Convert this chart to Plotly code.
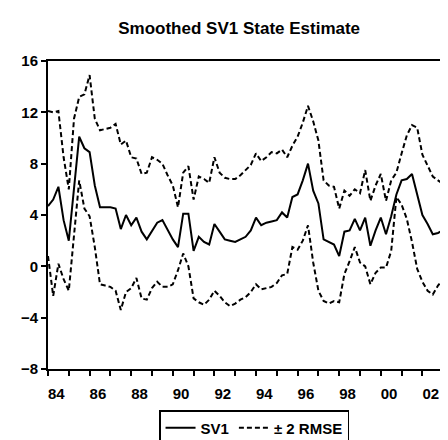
import plotly.graph_objects as go

# Quarterly dates 1984Q1 .. 2003Q4 (as fractional years)
years = [1984 + k / 4 for k in range(80)]

sv1 = [4.7, 5.2, 6.2, 3.6, 2.0, 6.2, 10.1, 9.2, 8.9, 6.3,
       4.6, 4.6, 4.6, 4.5, 2.9, 4.0, 3.2, 3.8, 2.7, 2.1,
       2.8, 3.4, 3.6, 2.8, 2.1, 1.5, 4.1, 4.1, 1.2, 2.3,
       1.9, 1.7, 3.3, 2.7, 2.1, 2.0, 1.9, 2.1, 2.3, 2.8,
       3.8, 3.2, 3.4, 3.5, 3.6, 4.2, 3.8, 5.4, 5.6, 6.7,
       8.0, 5.9, 4.9, 2.1, 1.9, 1.7, 0.8, 2.7, 2.8, 3.7,
       2.8, 3.8, 1.6, 2.8, 3.8, 2.5, 3.9, 5.6, 6.7, 6.8,
       7.2, 5.6, 4.0, 3.3, 2.5, 2.6, 2.8, 1.0, 0.0, -0.8]

upper = [12.1, 12.0, 12.1, 8.5, 6.0, 11.5, 13.2, 13.4, 14.9, 11.5,
         10.6, 10.7, 10.8, 11.1, 9.5, 9.8, 8.5, 8.4, 7.2, 7.3,
         8.5, 8.3, 8.0, 7.1, 6.3, 4.6, 7.3, 7.8, 5.2, 7.0,
         6.8, 6.5, 8.5, 7.3, 6.9, 6.8, 6.8, 7.1, 7.5, 7.9,
         8.8, 8.2, 8.5, 8.9, 8.8, 9.1, 8.5, 9.4, 10.1, 11.2,
         12.5, 11.3, 9.8, 6.7, 6.3, 6.2, 4.5, 5.9, 5.5, 6.0,
         5.7, 7.5, 5.1, 6.3, 7.2, 5.1, 6.7, 7.3, 8.8, 10.2,
         11.0, 10.8, 8.7, 7.9, 7.0, 6.7, 6.4, 2.9, 2.6, 1.8]

lower = [0.8, -2.3, 0.2, -1.0, -1.9, 2.5, 6.7, 4.5, 3.9, 1.5,
         -1.4, -1.5, -1.6, -1.9, -3.4, -2.0, -1.7, -0.9, -2.5, -2.6,
         -1.7, -1.2, -1.6, -1.6, -1.4, -0.3, 1.0, 0.0, -2.5, -2.8,
         -3.0, -2.6, -1.9, -2.3, -2.8, -3.1, -2.9, -2.6, -2.4, -2.0,
         -1.4, -1.8, -1.7, -1.6, -1.3, -0.7, -0.6, 1.5, 1.3, 2.0,
         3.2, 0.3, -1.9, -2.7, -2.9, -2.7, -2.8, -0.6, 0.4, 1.5,
         0.3, 0.0, -1.4, -0.5, -0.1, -0.1, 1.2, 5.4, 4.8, 3.7,
         1.9, -0.2, -1.2, -1.9, -2.2, -1.5, -1.0, -2.1, -2.8, -3.6]

label_years = [1984, 1986, 1988, 1990, 1992, 1994, 1996, 1998, 2000, 2002]
label_text = ["84", "86", "88", "90", "92", "94", "96", "98", "00", "02"]
y_ticks = [-8, -4, 0, 4, 8, 12, 16]

fig = go.Figure()
fig.add_trace(go.Scatter(x=years, y=sv1, mode="lines", name="SV1",
                         line=dict(color="black", width=2)))
fig.add_trace(go.Scatter(x=years, y=upper, mode="lines", name="\u00b1 2 RMSE",
                         line=dict(color="black", width=2, dash="5px,3px")))
fig.add_trace(go.Scatter(x=years, y=lower, mode="lines", name="\u00b1 2 RMSE",
                         showlegend=False,
                         line=dict(color="black", width=2, dash="5px,3px")))

fig.update_layout(
    width=448, height=440,
    margin=dict(l=40, r=0, t=53, b=79, autoexpand=False),
    paper_bgcolor="white", plot_bgcolor="white",
    font=dict(family="Liberation Sans, Arial, sans-serif", color="black"),
    title=dict(text="Smoothed SV1 State Estimate", x=0.516, xanchor="center",
               y=1 - 20 / 440, yanchor="middle",
               font=dict(size=17, weight="bold", color="black")),
    showlegend=True,
    legend=dict(orientation="h", x=0.505, xanchor="center",
                yref="container", y=1 - 402 / 440, yanchor="top",
                bordercolor="black", borderwidth=1.5, bgcolor="white",
                font=dict(size=15, weight="bold"), itemwidth=30,
                tracegroupgap=0),
)

fig.update_xaxes(
    range=[1984, 1984 + 408 / 20.8],
    showgrid=False, zeroline=False,
    showline=True, linecolor="black", linewidth=2, mirror=True,
    tickmode="array", tickvals=[y + 0.4 for y in label_years], ticktext=label_text,
    ticks="outside", ticklen=10, tickcolor="rgba(0,0,0,0)",
    tickfont=dict(size=15, weight="bold"),
    minor=dict(ticks="outside", ticklen=5, tickwidth=1.5, tickcolor="black",
               tick0=1984, dtick=1, showgrid=False),
)
fig.update_yaxes(
    range=[-8, 16],
    showgrid=False, zeroline=False,
    showline=True, linecolor="black", linewidth=2,
    tickmode="array", tickvals=y_ticks,
    ticks="outside", ticklen=5, tickwidth=1.5, tickcolor="black",
    tickfont=dict(size=15, weight="bold"),
)

fig.write_html("out.html")
